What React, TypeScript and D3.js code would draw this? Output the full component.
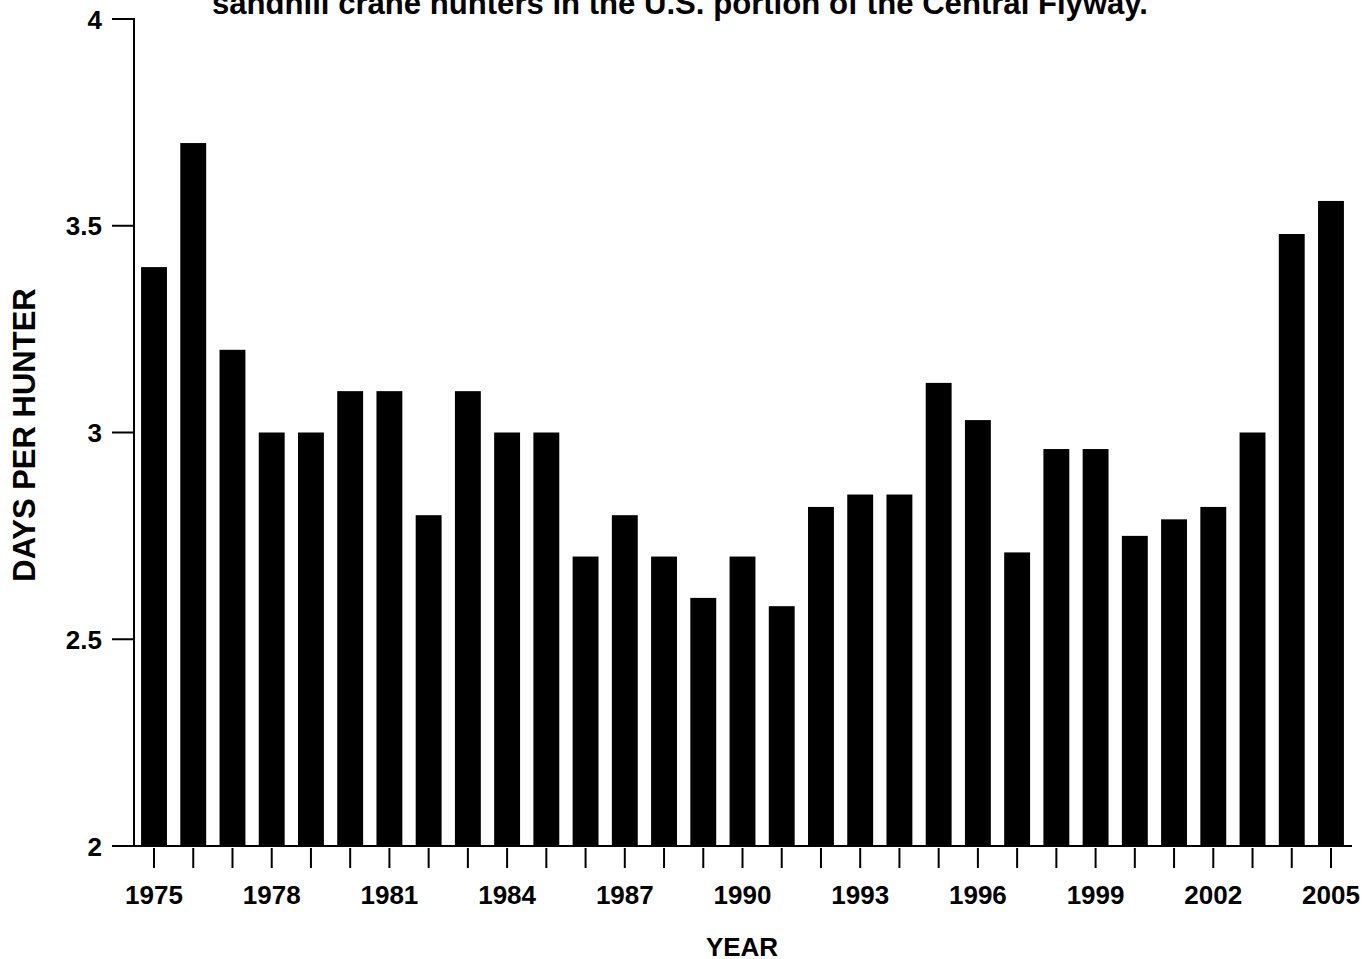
import React from "react";
import * as d3 from "d3";

const years: number[] = d3.range(1975, 2006);
const daysPerHunter: number[] = [
  3.4, 3.7, 3.2, 3.0, 3.0, 3.1, 3.1, 2.8, 3.1, 3.0,
  3.0, 2.7, 2.8, 2.7, 2.6, 2.7, 2.58, 2.82, 2.85, 2.85,
  3.12, 3.03, 2.71, 2.96, 2.96, 2.75, 2.79, 2.82, 3.0, 3.48,
  3.56,
];
const yTicks: number[] = [2, 2.5, 3, 3.5, 4];
const xLabelYears: number[] = [1975, 1978, 1981, 1984, 1987, 1990, 1993, 1996, 1999, 2002, 2005];
const titleText = "sandhill crane hunters in the U.S. portion of the Central Flyway.";
const xTitle = "YEAR";
const yTitle = "DAYS PER HUNTER";

const W = 1364;
const H = 959;
const FONT = "'Liberation Sans', Arial, Helvetica, sans-serif";

export default function App() {
  const x = d3
    .scaleBand<number>()
    .domain(years)
    .range([134.4, 1350.6])
    .paddingInner(0.34)
    .paddingOuter(0.17);
  const y = d3.scaleLinear().domain([2, 4]).range([846, 19]);
  const cx = (yr: number) => (x(yr) as number) + x.bandwidth() / 2;

  return (
    <svg
      width={W}
      height={H}
      viewBox={`0 0 ${W} ${H}`}
      style={{ position: "absolute", left: 0, top: 0, background: "#fff" }}
      fontFamily={FONT}
    >
      <rect x={0} y={0} width={W} height={H} fill="#fff" />
      {/* title (partially cut at top) */}
      <text
        x={212}
        y={14}
        fontSize={31}
        fontWeight="bold"
        textLength={936}
        lengthAdjust="spacingAndGlyphs"
      >
        {titleText}
      </text>

      {/* bars */}
      {years.map((yr, i) => (
        <rect
          key={yr}
          x={x(yr)}
          y={y(daysPerHunter[i])}
          width={x.bandwidth()}
          height={y(2) - y(daysPerHunter[i])}
          fill="#000"
        />
      ))}

      {/* y axis */}
      <line x1={134} x2={134} y1={y(4) - 1} y2={y(2) + 1} stroke="#000" strokeWidth={2} />
      {yTicks.map((t) => (
        <g key={t}>
          <line x1={112} x2={134} y1={y(t)} y2={y(t)} stroke="#000" strokeWidth={2} />
          <text
            x={102}
            y={y(t) + 9.5}
            textAnchor="end"
            fontSize={26}
            fontWeight="bold"
          >
            {d3.format("~g")(t)}
          </text>
        </g>
      ))}

      {/* x axis */}
      <line x1={112} x2={1352} y1={846} y2={846} stroke="#000" strokeWidth={2} />
      {years.map((yr) => (
        <line key={yr} x1={cx(yr)} x2={cx(yr)} y1={848} y2={868} stroke="#000" strokeWidth={2} />
      ))}
      {xLabelYears.map((yr) => (
        <text
          key={yr}
          x={cx(yr)}
          y={904}
          textAnchor="middle"
          fontSize={26}
          fontWeight="bold"
        >
          {yr}
        </text>
      ))}

      <text x={742} y={956} textAnchor="middle" fontSize={26} fontWeight="bold">
        {xTitle}
      </text>
      <text
        transform={`translate(35, 435) rotate(-90)`}
        textAnchor="middle"
        fontSize={31}
        fontWeight="bold"
      >
        {yTitle}
      </text>
    </svg>
  );
}
